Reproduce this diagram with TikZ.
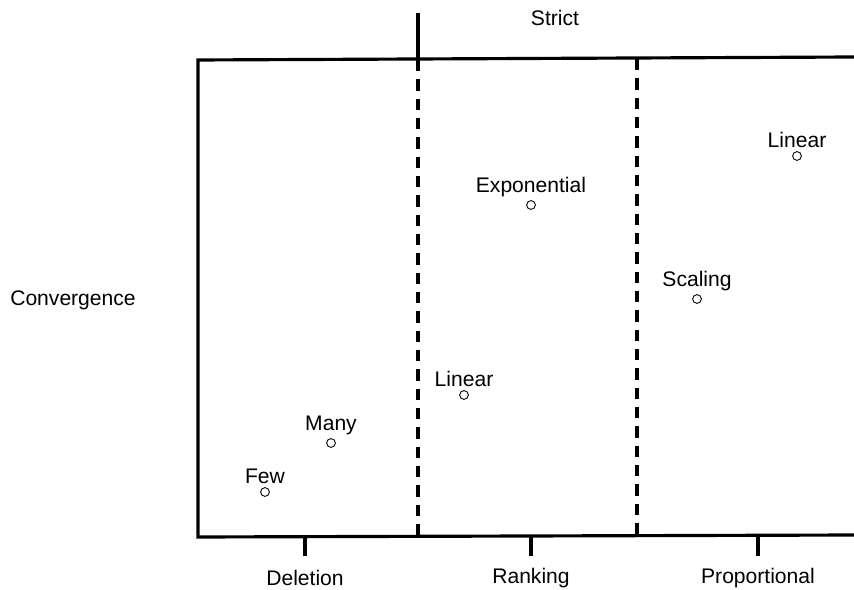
\documentclass[tikz,border=0pt]{standalone}
\usepackage{fontspec}
\setmainfont{Liberation Sans}
\usepackage{tikz}
\usetikzlibrary{shapes,positioning}

\tikzset{
  axisline/.style={line width=1.8pt},
  divline/.style={line width=1.8pt, dash pattern=on 6.5pt off 4.5pt},
  pt/.style={shape=circle, draw=black, line width=0.5pt, inner sep=0pt, minimum size=5pt},
  lbl/.style={font=\fontsize{12}{14}\selectfont, inner sep=0pt}
}

\begin{document}
\begin{tikzpicture}[x=0.02cm, y=-0.02cm]
\useasboundingbox (0,0) rectangle (854,590);

% frame
\coordinate (tr) at (854,57);
\coordinate (tl) at (198,60);
\coordinate (bl) at (198,537);
\coordinate (br) at (854,535);
\draw [axisline] (tr) -- (tl) -- (bl) -- (br);

% strict tick and dashed dividers
\coordinate (st_top) at (418,13);
\coordinate (d1_top) at (418,60);
\coordinate (d1_bot) at (418,537);
\coordinate (d2_top) at (637,59);
\coordinate (d2_bot) at (637,536);
\draw [axisline] (st_top) -- (d1_top);
\draw [divline] (d1_top) -- (d1_bot);
\draw [divline] (d2_top) -- (d2_bot);

% bottom ticks
\coordinate (del_t) at (305,537);
\coordinate (del_b) at (305,556);
\coordinate (rank_t) at (531,536);
\coordinate (rank_b) at (531,556);
\coordinate (prop_t) at (758,535);
\coordinate (prop_b) at (758,556);
\draw [axisline] (del_t) -- (del_b);
\draw [axisline] (rank_t) -- (rank_b);
\draw [axisline] (prop_t) -- (prop_b);

% axis labels
\node [lbl] at (305,578) (deletion) {Deletion};
\node [lbl] at (531,578) (ranking) {Ranking};
\node [lbl] at (758,578) (proportional) {Proportional};
\node [lbl] at (555,18) (strict) {Strict};
\node [lbl] at (73,300) (convergence) {Convergence};

% points
\node [pt] at (265,492) (few) {};
\node [pt] at (331,443) (many) {};
\node [pt] at (464,395) (lin_rank) {};
\node [pt] at (531,205) (expo) {};
\node [pt] at (697,299) (scaling) {};
\node [pt] at (797,156) (lin_prop) {};

\node [lbl, above=1.5pt of few] (few_lbl) {Few};
\node [lbl, above=1.5pt of many] (many_lbl) {Many};
\node [lbl, above=1.5pt of lin_rank] (lin_rank_lbl) {Linear};
\node [lbl, above=1.5pt of expo] (expo_lbl) {Exponential};
\node [lbl, above=1.5pt of scaling] (scaling_lbl) {Scaling};
\node [lbl, above=1.5pt of lin_prop] (lin_prop_lbl) {Linear};

\end{tikzpicture}
\end{document}
